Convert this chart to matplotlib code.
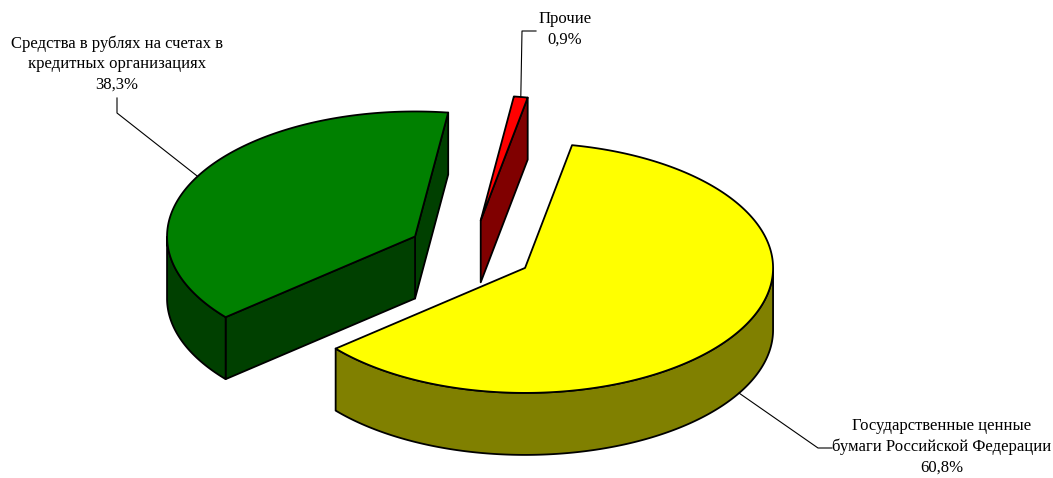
import numpy as np
import matplotlib.pyplot as plt
from matplotlib.patches import Polygon

plt.rcParams['font.family'] = ['Liberation Serif', 'DejaVu Serif']

# ================= data ====================
labels = ['Государственные ценные\nбумаги Российской Федерации',
          'Прочие',
          'Средства в рублях на счетах в\nкредитных организациях']
shares = [60.8, 0.9, 38.3]
top_colors = ['#ffff00', '#ff0000', '#008000']
side_colors = ['#808000', '#800000', '#004000']

# ================= geometry ====================
W, H = 1053, 478
cx, cy = 470.5, 251.8      # pie centre (pixels)
rx, ry = 248.0, 125.0      # half axes of the top ellipse
depth = 62.0               # thickness of the pie
explode = 0.255
start = -139.8             # degrees, counter-clockwise

fig = plt.figure(figsize=(W / 100, H / 100), dpi=100)
ax = fig.add_axes([0, 0, 1, 1])
ax.set_xlim(0, W)
ax.set_ylim(H, 0)
ax.axis('off')


def pt(c, th, dz=0.0):
    return (c[0] + rx * np.cos(th), c[1] - ry * np.sin(th) + dz)


def arc(c, t0, t1, dz=0.0, n=300):
    th = np.linspace(t0, t1, n)
    return np.column_stack([c[0] + rx * np.cos(th), c[1] - ry * np.sin(th) + dz])


edge = dict(edgecolor='black', linewidth=1.3, joinstyle='round')

# slice angles
spans = np.array(shares) / sum(shares) * 2 * np.pi
t_start = np.radians(start) + np.concatenate([[0], np.cumsum(spans)[:-1]])
t_end = t_start + spans
t_mid = (t_start + t_end) / 2
centres = [(cx + explode * rx * np.cos(m), cy - explode * ry * np.sin(m)) for m in t_mid]

# back-to-front
order = np.argsort(-np.sin(t_mid))
for i in order:
    c = centres[i]
    t0, t1 = t_start[i], t_end[i]
    # radial faces, shown when the outward normal points to the viewer
    for t, nrm in ((t0, t0 - np.pi / 2), (t1, t1 + np.pi / 2)):
        if np.sin(nrm) < 0:
            p = pt(c, t)
            face = [c, p, (p[0], p[1] + depth), (c[0], c[1] + depth)]
            ax.add_patch(Polygon(face, closed=True, facecolor=side_colors[i], **edge))
    # outer wall on the front half
    th = np.linspace(t0, t1, 800)
    front = th[np.sin(th) <= 0]
    if len(front) > 1:
        top = np.column_stack([c[0] + rx * np.cos(front), c[1] - ry * np.sin(front)])
        bot = top + [0, depth]
        wall = np.vstack([top, bot[::-1]])
        ax.add_patch(Polygon(wall, closed=True, facecolor=side_colors[i], **edge))
    # top face
    top_face = np.vstack([[c], arc(c, t0, t1)])
    ax.add_patch(Polygon(top_face, closed=True, facecolor=top_colors[i], **edge))

# ================= labels ====================
pct = ['%s%%' % ('%.1f' % s).replace('.', ',') for s in shares]
fs = 12
lw = 0.8
ls = 1.38

# yellow: anchor on the lower rim
ya = pt(centres[0], t_mid[0], depth)
ax.plot([ya[0], 818, 832], [ya[1], 448, 448], color='black', lw=lw)
ax.text(942, 447, labels[0] + '\n' + pct[0], ha='center', va='center',
        multialignment='center', fontsize=fs, linespacing=ls)

# red
ra = pt(centres[1], t_mid[1])
ax.plot([ra[0], 522, 536], [ra[1], 31, 31], color='black', lw=lw)
ax.text(565, 29.5, labels[1] + '\n' + pct[1], ha='center', va='center',
        multialignment='center', fontsize=fs, linespacing=ls)

# green
ga = pt(centres[2], t_mid[2])
ax.plot([ga[0], 117, 117], [ga[1], 113, 98], color='black', lw=lw)
ax.text(117, 64, labels[2] + '\n' + pct[2], ha='center', va='center',
        multialignment='center', fontsize=fs, linespacing=ls)

plt.savefig('out.png', dpi=100)
